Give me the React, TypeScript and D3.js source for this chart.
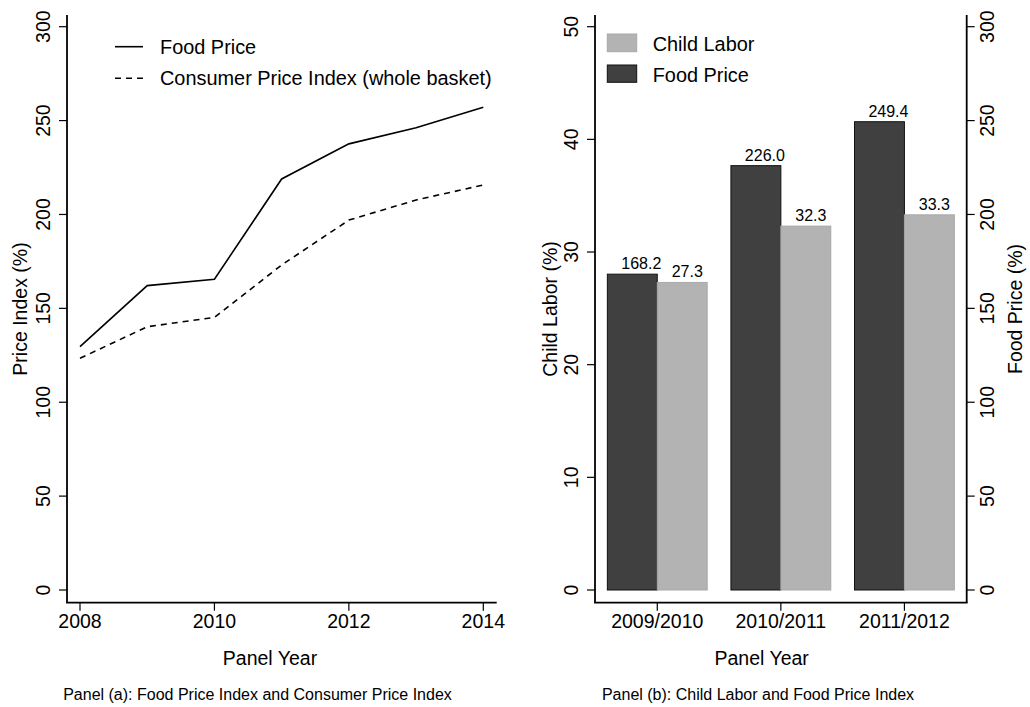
import React from "react";
import * as d3 from "d3";

// ---------- data ----------
const years = [2008, 2009, 2010, 2011, 2012, 2013, 2014];
const foodPriceIndex = [129.6, 162.1, 165.5, 218.9, 237.6, 246.2, 257.1];
const cpiIndex = [123.4, 140.2, 145.2, 173.1, 197.0, 207.7, 215.7];
const yearTicks = [2008, 2010, 2012, 2014];
const leftTicks = [0, 50, 100, 150, 200, 250, 300];

const panelYears = ["2009/2010", "2010/2011", "2011/2012"];
const childLabor = [27.3, 32.3, 33.3];
const foodPriceBars = [168.2, 226.0, 249.4];
const childTicks = [0, 10, 20, 30, 40, 50];
const foodTicks = [0, 50, 100, 150, 200, 250, 300];

const FONT = "'Liberation Sans', Arial, Helvetica, sans-serif";
const DARK = "#404040";
const LIGHT = "#b3b3b3";

export default function App() {
  // shared vertical geometry
  const yBottom = 590;
  const yTop300 = 26.7;
  const axisTop = 15;
  const axisBottom = 602.7;

  // ----- panel (a) -----
  const xA = d3.scaleLinear().domain([2008, 2014]).range([80, 483.3]);
  const yA = d3.scaleLinear().domain([0, 300]).range([yBottom, yTop300]);
  const axisAX = 67;
  const axisARight = 496.7;

  const lineGen = (vals: number[]) =>
    d3
      .line<number>()
      .x((_, i) => xA(years[i]))
      .y((v) => yA(v))(vals) as string;

  // ----- panel (b) -----
  const axisBL = 595;
  const axisBR = 966.7;
  const xB = d3
    .scaleBand<string>()
    .domain(panelYears)
    .range([axisBL, axisBR])
    .paddingInner(0.192)
    .paddingOuter(0.1);
  const yChild = d3.scaleLinear().domain([0, 50]).range([yBottom, yTop300]);
  const yFood = d3.scaleLinear().domain([0, 300]).range([yBottom, yTop300]);
  const half = xB.bandwidth() / 2;

  const tickFs = 19.5;
  const legFs = 19.9;

  return (
    <svg
      width={1030}
      height={707}
      style={{ position: "absolute", left: 0, top: 0, background: "#fff" }}
      fontFamily={FONT}
    >
      <rect x={0} y={0} width={1030} height={707} fill="#fff" />

      {/* ================= Panel (a) ================= */}
      <line x1={axisAX} y1={axisTop} x2={axisAX} y2={axisBottom} stroke="#000" strokeWidth={1.8} />
      <line x1={axisAX - 0.9} y1={axisBottom} x2={axisARight} y2={axisBottom} stroke="#000" strokeWidth={1.8} />
      {leftTicks.map((t) => (
        <g key={"la" + t}>
          <line x1={axisAX - 8} x2={axisAX} y1={yA(t)} y2={yA(t)} stroke="#000" strokeWidth={1.2} />
          <text
            transform={`translate(${50},${yA(t)}) rotate(-90)`}
            textAnchor="middle"
            fontSize={tickFs}
            fill="#000"
          >
            {t}
          </text>
        </g>
      ))}
      {yearTicks.map((t) => (
        <g key={"xa" + t}>
          <line x1={xA(t)} x2={xA(t)} y1={axisBottom} y2={axisBottom + 8} stroke="#000" strokeWidth={1.2} />
          <text x={xA(t)} y={628.3} textAnchor="middle" fontSize={tickFs} fill="#000">
            {t}
          </text>
        </g>
      ))}
      <text
        transform={`translate(${27},${309}) rotate(-90)`}
        textAnchor="middle"
        fontSize={tickFs}
        fill="#000"
      >
        Price Index (%)
      </text>
      <text x={270} y={665} textAnchor="middle" fontSize={tickFs} fill="#000">
        Panel Year
      </text>
      <text x={257.5} y={700} textAnchor="middle" fontSize={16} fill="#000">
        Panel (a): Food Price Index and Consumer Price Index
      </text>

      {/* lines */}
      <path d={lineGen(foodPriceIndex)} fill="none" stroke="#000" strokeWidth={1.6} />
      <path d={lineGen(cpiIndex)} fill="none" stroke="#000" strokeWidth={1.6} strokeDasharray="6,5" />

      {/* legend */}
      <line x1={115} x2={143} y1={46.7} y2={46.7} stroke="#000" strokeWidth={1.6} />
      <text x={160} y={53.5} fontSize={legFs} fill="#000">
        Food Price
      </text>
      <line x1={115} x2={143} y1={78.3} y2={78.3} stroke="#000" strokeWidth={1.6} strokeDasharray="6,5" />
      <text x={160} y={85} fontSize={legFs} fill="#000">
        Consumer Price Index (whole basket)
      </text>

      {/* ================= Panel (b) ================= */}
      {panelYears.map((c, i) => {
        const x0 = xB(c) as number;
        return (
          <g key={"bar" + c}>
            <rect
              x={x0}
              y={yFood(foodPriceBars[i])}
              width={half}
              height={yBottom - yFood(foodPriceBars[i])}
              fill={DARK}
              stroke="#111"
              strokeWidth={1}
            />
            <rect
              x={x0 + half}
              y={yChild(childLabor[i])}
              width={half}
              height={yBottom - yChild(childLabor[i])}
              fill={LIGHT}
              stroke="#a8a8a8"
              strokeWidth={1}
            />
            <text
              x={x0 + half / 2 + 9}
              y={yFood(foodPriceBars[i]) - 5}
              textAnchor="middle"
              fontSize={16}
              fill="#000"
            >
              {foodPriceBars[i].toFixed(1)}
            </text>
            <text
              x={x0 + half * 1.5 + 5}
              y={yChild(childLabor[i]) - 5}
              textAnchor="middle"
              fontSize={16}
              fill="#000"
            >
              {childLabor[i].toFixed(1)}
            </text>
          </g>
        );
      })}

      <line x1={axisBL} y1={axisTop} x2={axisBL} y2={axisBottom} stroke="#000" strokeWidth={1.8} />
      <line x1={axisBR} y1={axisTop} x2={axisBR} y2={axisBottom} stroke="#000" strokeWidth={1.8} />
      <line x1={axisBL - 0.9} y1={axisBottom} x2={axisBR + 0.9} y2={axisBottom} stroke="#000" strokeWidth={1.8} />
      {childTicks.map((t) => (
        <g key={"cl" + t}>
          <line x1={axisBL - 8} x2={axisBL} y1={yChild(t)} y2={yChild(t)} stroke="#000" strokeWidth={1.2} />
          <text
            transform={`translate(${578},${yChild(t)}) rotate(-90)`}
            textAnchor="middle"
            fontSize={tickFs}
            fill="#000"
          >
            {t}
          </text>
        </g>
      ))}
      {foodTicks.map((t) => (
        <g key={"fr" + t}>
          <line x1={axisBR} x2={axisBR + 8} y1={yFood(t)} y2={yFood(t)} stroke="#000" strokeWidth={1.2} />
          <text
            transform={`translate(${993.5},${yFood(t)}) rotate(-90)`}
            textAnchor="middle"
            fontSize={tickFs}
            fill="#000"
          >
            {t}
          </text>
        </g>
      ))}
      {panelYears.map((c) => {
        const cx = (xB(c) as number) + half;
        return (
          <g key={"xb" + c}>
            <line x1={cx} x2={cx} y1={axisBottom} y2={axisBottom + 8} stroke="#000" strokeWidth={1.2} />
            <text x={cx} y={628.3} textAnchor="middle" fontSize={tickFs} fill="#000">
              {c}
            </text>
          </g>
        );
      })}
      <text
        transform={`translate(${556.5},${309}) rotate(-90)`}
        textAnchor="middle"
        fontSize={tickFs}
        fill="#000"
      >
        Child Labor (%)
      </text>
      <text
        transform={`translate(${1021.5},${309}) rotate(-90)`}
        textAnchor="middle"
        fontSize={tickFs}
        fill="#000"
      >
        Food Price (%)
      </text>
      <text x={761.7} y={665} textAnchor="middle" fontSize={tickFs} fill="#000">
        Panel Year
      </text>
      <text x={758} y={700} textAnchor="middle" fontSize={16} fill="#000">
        Panel (b): Child Labor and Food Price Index
      </text>

      {/* legend */}
      <rect x={607.3} y={34} width={29.4} height={17.7} fill={LIGHT} stroke="#a8a8a8" strokeWidth={1} />
      <text x={652.7} y={50.5} fontSize={legFs} fill="#000">
        Child Labor
      </text>
      <rect x={607.3} y={65} width={29.4} height={17.3} fill={DARK} stroke="#111" strokeWidth={1} />
      <text x={652.7} y={81.5} fontSize={legFs} fill="#000">
        Food Price
      </text>
    </svg>
  );
}
